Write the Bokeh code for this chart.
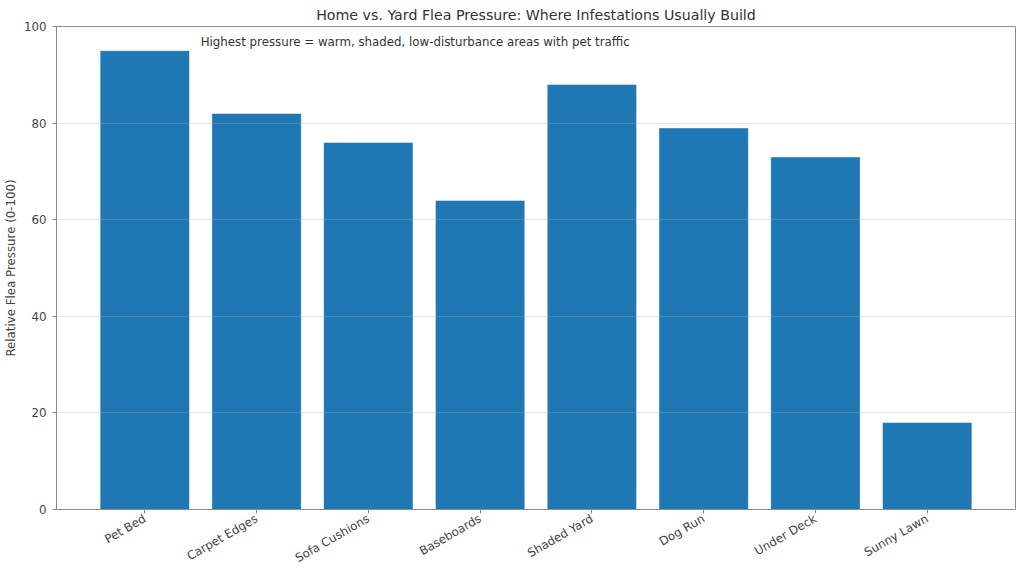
import math
from bokeh.plotting import figure
from bokeh.models import Range1d, FixedTicker, Label, ColumnDataSource
from bokeh.embed import file_html
from bokeh.resources import INLINE

categories = ["Pet Bed", "Carpet Edges", "Sofa Cushions", "Baseboards",
              "Shaded Yard", "Dog Run", "Under Deck", "Sunny Lawn"]
pressure = [95, 82, 76, 64, 88, 79, 73, 18]
y_ticks = [0, 20, 40, 60, 80, 100]
title_text = "Home vs. Yard Flea Pressure: Where Infestations Usually Build"
note_text = "Highest pressure = warm, shaded, low-disturbance areas with pet traffic"
y_label = "Relative Flea Pressure (0-100)"

FONT = "DejaVu Sans"
idx = list(range(len(categories)))
src = ColumnDataSource(dict(x=idx, top=pressure))

p = figure(width=1024, height=576, output_backend="svg", toolbar_location=None,
           x_range=Range1d(-0.79, len(categories) - 1 + 0.79),
           y_range=Range1d(0, 100),
           min_border_left=56, min_border_right=9, min_border_top=26,
           min_border_bottom=67)

p.vbar(x="x", top="top", width=0.8, bottom=0, source=src,
       fill_color="#1f77b4", line_color="white", line_alpha=0.5, line_width=1)

p.title.text = title_text
p.title.text_font = FONT
p.title.text_font_size = "14.2px"
p.title.text_font_style = "normal"
p.title.text_color = "#333333"
p.title.align = "center"
p.title.standoff = 8

p.outline_line_color = "#8c8c8c"
p.outline_line_width = 1

for ax in (p.xaxis[0], p.yaxis[0]):
    ax.axis_line_color = "#8c8c8c"
    ax.major_tick_line_color = "#8c8c8c"
    ax.major_tick_in = 0
    ax.major_tick_out = 4
    ax.minor_tick_line_color = None
    ax.major_label_text_font = FONT
    ax.major_label_text_font_size = "11.8px"
    ax.major_label_text_color = "#444444"

p.xaxis.ticker = FixedTicker(ticks=idx)
p.xaxis.major_label_overrides = {i: c for i, c in enumerate(categories)}
p.xaxis.major_label_orientation = math.pi / 6
p.xaxis.major_label_standoff = 4

p.yaxis.ticker = FixedTicker(ticks=y_ticks)
p.yaxis.major_label_standoff = 6
p.yaxis.axis_label = y_label
p.yaxis.axis_label_text_font = FONT
p.yaxis.axis_label_text_font_size = "11.8px"
p.yaxis.axis_label_text_font_style = "normal"
p.yaxis.axis_label_text_color = "#444444"
p.yaxis.axis_label_standoff = 3

p.xgrid.grid_line_color = None
p.ygrid.grid_line_color = "#b0b0b0"
p.ygrid.grid_line_alpha = 0.3
p.ygrid.level = "overlay"

p.add_layout(Label(x=0.5, y=96.7, text=note_text, text_font=FONT,
                   text_font_size="11.8px", text_color="#333333",
                   text_baseline="middle", text_align="left"))

open("out.html", "w").write(file_html(p, INLINE))
